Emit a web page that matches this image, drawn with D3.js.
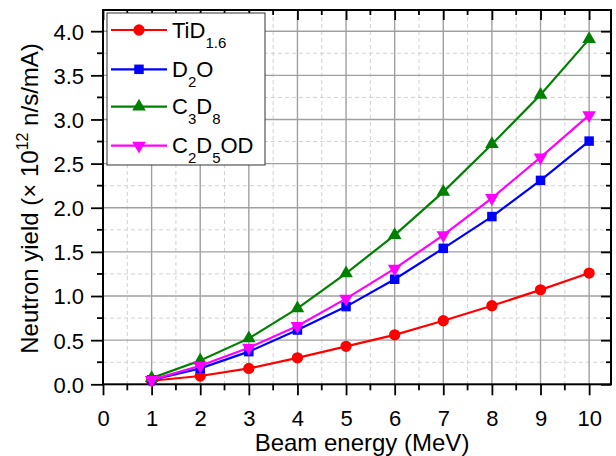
<!DOCTYPE html>
<html><head><meta charset="utf-8">
<script src="https://cdn.jsdelivr.net/npm/d3@7"></script>
<style>body{margin:0;background:#fff}svg{display:block}text{font-family:"Liberation Sans",Arial,sans-serif}</style>
</head><body><svg id="c" width="616" height="456"></svg>
<script>
const energies = [1,2,3,4,5,6,7,8,9,10];
const tid = [0.04,0.094,0.18,0.30,0.43,0.56,0.72,0.89,1.07,1.26];
const d2o = [0.05,0.18,0.37,0.615,0.88,1.19,1.54,1.90,2.31,2.755];
const c3d8 = [0.07,0.27,0.52,0.86,1.257,1.69,2.18,2.72,3.28,3.91];
const c2d5od = [0.05,0.21,0.415,0.66,0.97,1.31,1.69,2.11,2.57,3.05];
const xTicks = [0,1,2,3,4,5,6,7,8,9,10];
const yTicks = [0,0.5,1.0,1.5,2.0,2.5,3.0,3.5,4.0];
const series = [
  {vals:tid, color:"#ff0000", marker:"circle"},
  {vals:d2o, color:"#0000ff", marker:"square"},
  {vals:c3d8, color:"#008000", marker:"triangle"},
  {vals:c2d5od, color:"#ff00ff", marker:"tridown"}
];
const legendLabels = [
  [["TiD",""],["1.6","sub"]],
  [["D",""],["2","sub"],["O",""]],
  [["C",""],["3","sub"],["D",""],["8","sub"]],
  [["C",""],["2","sub"],["D",""],["5","sub"],["OD",""]]
];
const svg = d3.select("#c");
const L=103, R=611, T=10, B=384.3;
const x = d3.scaleLinear().domain([0,10.45]).range([L,R]);
const y = d3.scaleLinear().domain([0,4.24]).range([B,T]);
const g = svg.append("g");
const xMinor = d3.range(0.5,10.45,1);
const yMinor = d3.range(0.25,4.24,0.5);
// minor grid
g.selectAll(".xm").data(xMinor).enter().append("line").attr("x1",d=>x(d)).attr("x2",d=>x(d)).attr("y1",T).attr("y2",B).attr("stroke","#d2d2d2").attr("stroke-dasharray","4,3").attr("stroke-width",1);
g.selectAll(".ym").data(yMinor).enter().append("line").attr("y1",d=>y(d)).attr("y2",d=>y(d)).attr("x1",L).attr("x2",R).attr("stroke","#d2d2d2").attr("stroke-dasharray","4,3").attr("stroke-width",1);
// major grid
g.selectAll(".xg").data(xTicks.slice(1)).enter().append("line").attr("x1",d=>x(d)).attr("x2",d=>x(d)).attr("y1",T).attr("y2",B).attr("stroke","#a0a0a0").attr("stroke-width",1.4);
g.selectAll(".yg").data(yTicks.slice(1)).enter().append("line").attr("y1",d=>y(d)).attr("y2",d=>y(d)).attr("x1",L).attr("x2",R).attr("stroke","#a0a0a0").attr("stroke-width",1.4);
// axes
const axB = d3.axisBottom(x).tickValues(xTicks).tickSize(11).tickPadding(15).tickFormat(d3.format("d"));
const axL = d3.axisLeft(y).tickValues(yTicks).tickSize(12).tickPadding(7).tickFormat(d3.format(".1f"));
const axT = d3.axisBottom(x).tickValues(xTicks).tickSize(10).tickFormat("");
const axR = d3.axisLeft(y).tickValues(yTicks).tickSize(10).tickFormat("");
function styleAx(sel){sel.select(".domain").remove();sel.selectAll("line").attr("stroke","#000").attr("stroke-width",1.8);sel.selectAll("text").attr("font-size",22).attr("fill","#000").attr("font-family","Liberation Sans, Arial, sans-serif");}
svg.append("g").attr("transform",`translate(0,${B})`).call(axB).call(styleAx);
svg.append("g").attr("transform",`translate(${L},0)`).call(axL).call(styleAx).selectAll("text").attr("dy","0.36em");
svg.append("g").attr("transform",`translate(0,${T})`).call(axT).call(styleAx);
svg.append("g").attr("transform",`translate(${R},0)`).call(axR).call(styleAx);
// minor ticks
const tk = svg.append("g").attr("stroke","#000").attr("stroke-width",1.8);
tk.selectAll(".mtb").data(xMinor).enter().append("line").attr("x1",d=>x(d)).attr("x2",d=>x(d)).attr("y1",B).attr("y2",B+6);
tk.selectAll(".mtt").data(xMinor).enter().append("line").attr("x1",d=>x(d)).attr("x2",d=>x(d)).attr("y1",T).attr("y2",T+5);
tk.selectAll(".mtl").data(yMinor).enter().append("line").attr("y1",d=>y(d)).attr("y2",d=>y(d)).attr("x1",L-6).attr("x2",L);
tk.selectAll(".mtr").data(yMinor).enter().append("line").attr("y1",d=>y(d)).attr("y2",d=>y(d)).attr("x1",R-5).attr("x2",R);
svg.append("rect").attr("x",L).attr("y",T).attr("width",R-L).attr("height",B-T).attr("fill","none").attr("stroke","#000").attr("stroke-width",2);
function sym(type){
  if(type==="circle") return d3.symbol(d3.symbolCircle,100)();
  if(type==="square") return d3.symbol(d3.symbolSquare,90)();
  return d3.symbol(d3.symbolTriangle,80)();
}
const line = d3.line().x((d,i)=>x(energies[i])).y(d=>y(d));
series.forEach(s=>{
  svg.append("path").datum(s.vals).attr("d",line).attr("fill","none").attr("stroke",s.color).attr("stroke-width",2.2);
  svg.selectAll(null).data(s.vals).enter().append("path").attr("d",sym(s.marker))
    .attr("transform",(d,i)=>`translate(${x(energies[i])},${y(d)})${s.marker==="tridown"?" rotate(180)":""}`)
    .attr("fill",s.color);
});
// legend
const lg = svg.append("g");
lg.append("rect").attr("x",107).attr("y",13).attr("width",158).attr("height",152).attr("fill","#fff").attr("stroke","#333").attr("stroke-width",1);
const rowsY = [30,69.3,106.7,145.7];
series.forEach((s,i)=>{
  const yy = rowsY[i];
  lg.append("line").attr("x1",111).attr("x2",167).attr("y1",yy).attr("y2",yy).attr("stroke",s.color).attr("stroke-width",2.2);
  lg.append("path").attr("d",sym(s.marker)).attr("transform",`translate(139,${yy})${s.marker==="tridown"?" rotate(180)":""}`).attr("fill",s.color);
  const t = lg.append("text").attr("x",172).attr("y",yy+7.7).attr("font-size",22).attr("fill","#000");
  let prevSub=false;
  legendLabels[i].forEach(p=>{
    const ts = t.append("tspan").text(p[0]);
    if(p[1]==="sub"){ts.attr("font-size",15).attr("dy",10);prevSub=true;}
    else if(prevSub){ts.attr("dy",-10);prevSub=false;}
  });
});
// axis titles
svg.append("text").attr("x",362).attr("y",450.5).attr("text-anchor","middle").attr("font-size",24).attr("fill","#000").text("Beam energy (MeV)");
const yt = svg.append("text").attr("transform",`translate(37.5,198.5) rotate(-90)`).attr("text-anchor","middle").attr("font-size",24).attr("fill","#000");
yt.append("tspan").text("Neutron yield (× 10");
yt.append("tspan").text("12").attr("font-size",16).attr("dy",-10);
yt.append("tspan").text(" n/s/mA)").attr("dy",10);
</script></body></html>
